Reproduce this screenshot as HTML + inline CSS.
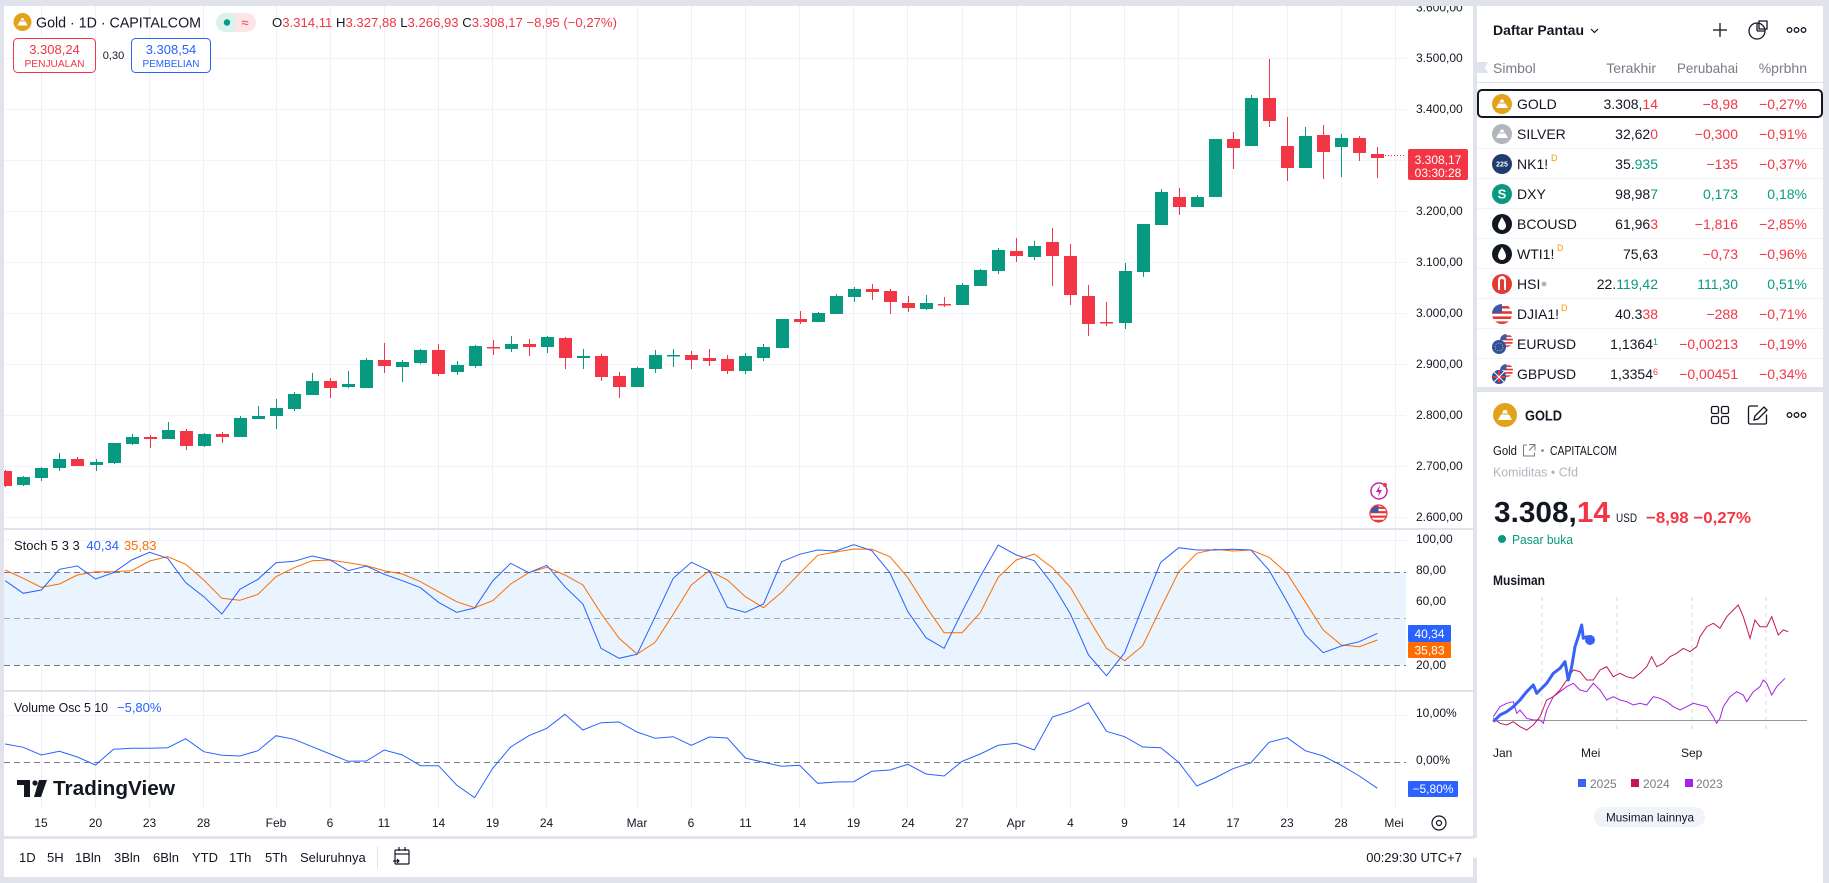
<!DOCTYPE html>
<html><head><meta charset="utf-8"><style>
html,body{margin:0;padding:0;background:#e0e3eb;}
svg{display:block;font-family:"Liberation Sans",sans-serif;}
</style></head><body>
<svg width="1829" height="883" viewBox="0 0 1829 883" xmlns="http://www.w3.org/2000/svg">
<defs>
<clipPath id="chartclip"><rect x="4" y="6" width="1402" height="802"/></clipPath>
<clipPath id="cc10"><circle cx="0" cy="0" r="10"/></clipPath>
<symbol id="us" viewBox="-10 -10 20 20">
<g clip-path="url(#cc10)">
<rect x="-10" y="-10" width="20" height="20" fill="#fff"/>
<rect x="-10" y="-8" width="20" height="2.6" fill="#e53935"/>
<rect x="-10" y="-2.8" width="20" height="2.6" fill="#e53935"/>
<rect x="-10" y="2.4" width="20" height="2.6" fill="#e53935"/>
<rect x="-10" y="7.4" width="20" height="2.6" fill="#e53935"/>
<rect x="-10" y="-10" width="10" height="9" fill="#3c5aa6"/>
</g></symbol>
</defs>

<!-- cards -->
<rect x="4" y="6" width="1469" height="830" fill="#fff"/>
<rect x="4" y="839" width="1469" height="38" fill="#fff"/>
<rect x="1477" y="6" width="346" height="381" fill="#fff"/>
<rect x="1477" y="392" width="346" height="491" fill="#fff"/>

<!-- stoch band -->
<rect x="4" y="572" width="1402" height="93" fill="#e9f4fe"/>

<!-- grid -->
<g stroke="#f0f3fa" stroke-width="1">
<line x1="4" y1="58.5" x2="1406" y2="58.5"/><line x1="4" y1="109.5" x2="1406" y2="109.5"/><line x1="4" y1="160.5" x2="1406" y2="160.5"/><line x1="4" y1="211.5" x2="1406" y2="211.5"/><line x1="4" y1="262.5" x2="1406" y2="262.5"/><line x1="4" y1="313.5" x2="1406" y2="313.5"/><line x1="4" y1="364.5" x2="1406" y2="364.5"/><line x1="4" y1="415.5" x2="1406" y2="415.5"/><line x1="4" y1="466.5" x2="1406" y2="466.5"/><line x1="4" y1="517.5" x2="1406" y2="517.5"/>
<line x1="4" y1="540.5" x2="1406" y2="540.5"/><line x1="4" y1="603.5" x2="1406" y2="603.5"/><line x1="4" y1="634.5" x2="1406" y2="634.5"/>
<line x1="4" y1="715.5" x2="1406" y2="715.5"/>
</g>
<g stroke="#eef0f5" stroke-width="1">
<line x1="41.5" y1="6" x2="41.5" y2="808"/><line x1="95.5" y1="6" x2="95.5" y2="808"/><line x1="149.5" y1="6" x2="149.5" y2="808"/><line x1="203.5" y1="6" x2="203.5" y2="808"/><line x1="276.5" y1="6" x2="276.5" y2="808"/><line x1="330.5" y1="6" x2="330.5" y2="808"/><line x1="384.5" y1="6" x2="384.5" y2="808"/><line x1="438.5" y1="6" x2="438.5" y2="808"/><line x1="492.5" y1="6" x2="492.5" y2="808"/><line x1="546.5" y1="6" x2="546.5" y2="808"/><line x1="637.5" y1="6" x2="637.5" y2="808"/><line x1="691.5" y1="6" x2="691.5" y2="808"/><line x1="745.5" y1="6" x2="745.5" y2="808"/><line x1="799.5" y1="6" x2="799.5" y2="808"/><line x1="853.5" y1="6" x2="853.5" y2="808"/><line x1="907.5" y1="6" x2="907.5" y2="808"/><line x1="962.5" y1="6" x2="962.5" y2="808"/><line x1="1016.5" y1="6" x2="1016.5" y2="808"/><line x1="1070.5" y1="6" x2="1070.5" y2="808"/><line x1="1124.5" y1="6" x2="1124.5" y2="808"/><line x1="1178.5" y1="6" x2="1178.5" y2="808"/><line x1="1232.5" y1="6" x2="1232.5" y2="808"/><line x1="1287.5" y1="6" x2="1287.5" y2="808"/><line x1="1341.5" y1="6" x2="1341.5" y2="808"/><line x1="1395.5" y1="6" x2="1395.5" y2="808"/>
</g>

<!-- pane separators -->
<rect x="4" y="528" width="1469" height="2" fill="#e0e3eb"/>
<rect x="4" y="690" width="1469" height="2" fill="#e0e3eb"/>

<!-- stoch dashed -->
<g stroke-dasharray="6 4" stroke-width="1">
<line x1="4" y1="572.5" x2="1406" y2="572.5" stroke="#787b86"/>
<line x1="4" y1="618.5" x2="1406" y2="618.5" stroke="#a8abb5"/>
<line x1="4" y1="665.5" x2="1406" y2="665.5" stroke="#787b86"/>
<line x1="4" y1="762.5" x2="1406" y2="762.5" stroke="#787b86"/>
</g>

<g clip-path="url(#chartclip)">
<!-- green candles -->
<g fill="#089981">
<rect x="23" y="476" width="1" height="10"/><rect x="17" y="477" width="13" height="8"/>
<rect x="41" y="467" width="1" height="14"/><rect x="35" y="468" width="13" height="10"/>
<rect x="59" y="453" width="1" height="18"/><rect x="53" y="459" width="13" height="9"/>
<rect x="96" y="459" width="1" height="12"/><rect x="90" y="462" width="13" height="3"/>
<rect x="114" y="443" width="1" height="21"/><rect x="108" y="443" width="13" height="20"/>
<rect x="132" y="434" width="1" height="11"/><rect x="126" y="437" width="13" height="7"/>
<rect x="168" y="422" width="1" height="17"/><rect x="162" y="430" width="13" height="9"/>
<rect x="204" y="433" width="1" height="14"/><rect x="198" y="434" width="13" height="12"/>
<rect x="240" y="416" width="1" height="21"/><rect x="234" y="418" width="13" height="19"/>
<rect x="258" y="406" width="1" height="13"/><rect x="252" y="416" width="13" height="3"/>
<rect x="276" y="399" width="1" height="30"/><rect x="270" y="408" width="13" height="8"/>
<rect x="294" y="392" width="1" height="19"/><rect x="288" y="394" width="13" height="15"/>
<rect x="312" y="373" width="1" height="22"/><rect x="306" y="381" width="13" height="14"/>
<rect x="348" y="371" width="1" height="17"/><rect x="342" y="384" width="13" height="3"/>
<rect x="366" y="358" width="1" height="30"/><rect x="360" y="360" width="13" height="28"/>
<rect x="402" y="360" width="1" height="22"/><rect x="396" y="362" width="13" height="5"/>
<rect x="420" y="349" width="1" height="15"/><rect x="414" y="350" width="13" height="13"/>
<rect x="457" y="361" width="1" height="14"/><rect x="451" y="365" width="13" height="7"/>
<rect x="475" y="345" width="1" height="23"/><rect x="469" y="346" width="13" height="20"/>
<rect x="511" y="336" width="1" height="16"/><rect x="505" y="344" width="13" height="5"/>
<rect x="547" y="336" width="1" height="17"/><rect x="541" y="337" width="13" height="10"/>
<rect x="583" y="349" width="1" height="20"/><rect x="577" y="356" width="13" height="2"/>
<rect x="637" y="367" width="1" height="20"/><rect x="631" y="368" width="13" height="19"/>
<rect x="655" y="350" width="1" height="23"/><rect x="649" y="355" width="13" height="14"/>
<rect x="673" y="349" width="1" height="18"/><rect x="667" y="355" width="13" height="1.5"/>
<rect x="745" y="353" width="1" height="21"/><rect x="739" y="356" width="13" height="15"/>
<rect x="763" y="344" width="1" height="17"/><rect x="757" y="347" width="13" height="11"/>
<rect x="782" y="319" width="1" height="29"/><rect x="776" y="319" width="13" height="29"/>
<rect x="818" y="312" width="1" height="10"/><rect x="812" y="313" width="13" height="9"/>
<rect x="836" y="294" width="1" height="20"/><rect x="830" y="296" width="13" height="18"/>
<rect x="854" y="287" width="1" height="15"/><rect x="848" y="289" width="13" height="8"/>
<rect x="926" y="295" width="1" height="15"/><rect x="920" y="303" width="13" height="6"/>
<rect x="962" y="283" width="1" height="22"/><rect x="956" y="285" width="13" height="20"/>
<rect x="980" y="269" width="1" height="17"/><rect x="974" y="270" width="13" height="16"/>
<rect x="998" y="248" width="1" height="26"/><rect x="992" y="250" width="13" height="21"/>
<rect x="1034" y="241" width="1" height="19"/><rect x="1028" y="246" width="13" height="11"/>
<rect x="1125" y="263" width="1" height="66"/><rect x="1119" y="271" width="13" height="52"/>
<rect x="1143" y="224" width="1" height="53"/><rect x="1137" y="224" width="13" height="48"/>
<rect x="1161" y="189" width="1" height="36"/><rect x="1155" y="192" width="13" height="33"/>
<rect x="1197" y="195" width="1" height="12"/><rect x="1191" y="197" width="13" height="10"/>
<rect x="1215" y="139" width="1" height="58"/><rect x="1209" y="139" width="13" height="58"/>
<rect x="1251" y="95" width="1" height="51"/><rect x="1245" y="98" width="13" height="48"/>
<rect x="1305" y="127" width="1" height="41"/><rect x="1299" y="136" width="13" height="32"/>
<rect x="1341" y="134" width="1" height="43"/><rect x="1335" y="138" width="13" height="9"/>
</g>
<!-- red candles -->
<g fill="#f23645">
<rect x="5" y="470" width="1" height="17"/><rect x="-1" y="471" width="13" height="15"/>
<rect x="77" y="457" width="1" height="9"/><rect x="71" y="459" width="13" height="7"/>
<rect x="150" y="435" width="1" height="13"/><rect x="144" y="437" width="13" height="2"/>
<rect x="186" y="429" width="1" height="21"/><rect x="180" y="431" width="13" height="15"/>
<rect x="222" y="432" width="1" height="11"/><rect x="216" y="434" width="13" height="3"/>
<rect x="330" y="378" width="1" height="20"/><rect x="324" y="381" width="13" height="7"/>
<rect x="384" y="343" width="1" height="30"/><rect x="378" y="360" width="13" height="6"/>
<rect x="438" y="344" width="1" height="32"/><rect x="432" y="350" width="13" height="24"/>
<rect x="493" y="340" width="1" height="15"/><rect x="487" y="347" width="13" height="1.5"/>
<rect x="529" y="339" width="1" height="17"/><rect x="523" y="344" width="13" height="3"/>
<rect x="565" y="337" width="1" height="32"/><rect x="559" y="338" width="13" height="20"/>
<rect x="601" y="354" width="1" height="27"/><rect x="595" y="356" width="13" height="21"/>
<rect x="619" y="372" width="1" height="26"/><rect x="613" y="376" width="13" height="11"/>
<rect x="691" y="351" width="1" height="18"/><rect x="685" y="355" width="13" height="5"/>
<rect x="709" y="349" width="1" height="17"/><rect x="703" y="358" width="13" height="3"/>
<rect x="727" y="355" width="1" height="19"/><rect x="721" y="359" width="13" height="12"/>
<rect x="800" y="311" width="1" height="13"/><rect x="794" y="319" width="13" height="3"/>
<rect x="872" y="284" width="1" height="16"/><rect x="866" y="289" width="13" height="3"/>
<rect x="890" y="289" width="1" height="25"/><rect x="884" y="291" width="13" height="11"/>
<rect x="908" y="296" width="1" height="16"/><rect x="902" y="303" width="13" height="5"/>
<rect x="944" y="297" width="1" height="10"/><rect x="938" y="304" width="13" height="1.5"/>
<rect x="1016" y="238" width="1" height="24"/><rect x="1010" y="251" width="13" height="5"/>
<rect x="1052" y="228" width="1" height="58"/><rect x="1046" y="242" width="13" height="14"/>
<rect x="1070" y="244" width="1" height="61"/><rect x="1064" y="256" width="13" height="39"/>
<rect x="1088" y="285" width="1" height="51"/><rect x="1082" y="296" width="13" height="28"/>
<rect x="1106" y="302" width="1" height="24"/><rect x="1100" y="322" width="13" height="1.5"/>
<rect x="1179" y="188" width="1" height="27"/><rect x="1173" y="197" width="13" height="10"/>
<rect x="1233" y="132" width="1" height="37"/><rect x="1227" y="139" width="13" height="9"/>
<rect x="1269" y="59" width="1" height="68"/><rect x="1263" y="98" width="13" height="23"/>
<rect x="1287" y="117" width="1" height="64"/><rect x="1281" y="146" width="13" height="22"/>
<rect x="1323" y="125" width="1" height="54"/><rect x="1317" y="135" width="13" height="17"/>
<rect x="1359" y="136" width="1" height="25"/><rect x="1353" y="138" width="13" height="15"/>
<rect x="1377" y="147" width="1" height="31"/><rect x="1371" y="154" width="13" height="4"/>
</g>
<line x1="1385" y1="155.5" x2="1406" y2="155.5" stroke="#f23645" stroke-dasharray="1 2"/>

<!-- stoch lines -->
<polyline fill="none" stroke="#ff6d00" stroke-width="1" points="5.2,570 23.2,578.3 41.3,587.3 59.4,584 77.4,575 95.5,571.7 113.5,571.7 131.6,570.7 149.6,561 167.7,556.7 185.7,564.3 203.8,580 221.9,598.3 239.9,600.3 258,594.3 276,576.7 294.1,567.7 312.1,560.7 330.2,560 348.2,562.7 366.3,565.7 384.3,570.7 402.4,574 420.5,581.7 438.5,591.7 456.6,601.7 474.6,607.7 492.7,600.7 510.7,584 528.8,572.7 546.8,567.3 564.9,575 582.9,585 601,613.3 619.1,638.3 637.1,654 655.2,642.3 673.2,614.3 691.3,585 709.3,570.7 727.4,580 745.4,596.7 763.5,607.7 781.6,592.3 799.6,573.3 817.7,555.3 835.7,552 853.8,549 871.8,549.3 889.9,556.7 907.9,577.7 926,606.7 944.1,632.7 962.1,632.7 980.2,612.7 998.2,577.3 1016.3,560 1034.3,554 1052.4,567.7 1070.4,587.3 1088.5,618.3 1106.5,648.3 1124.6,660.7 1142.7,645.7 1160.7,608.3 1178.8,571.7 1196.8,553.3 1214.9,549.3 1232.9,551 1251,550 1269,557.3 1287.1,573.3 1305.2,601.7 1323.2,630 1341.3,645 1359.3,646.7 1377.4,640"/>
<polyline fill="none" stroke="#2962ff" stroke-width="1" points="5.2,580.7 23.2,593.3 41.3,590 59.4,569.3 77.4,566 95.5,579 113.5,572.7 131.6,560 149.6,552.3 167.7,558.3 185.7,582.7 203.8,596.7 221.9,614 239.9,589.3 258,579.3 276,562.7 294.1,561.3 312.1,556 330.2,560 348.2,570.7 366.3,566 384.3,574.3 402.4,580.7 420.5,587.7 438.5,602.3 456.6,612.3 474.6,608 492.7,581 510.7,563.3 528.8,572.7 546.8,565.3 564.9,586.7 582.9,604 601,648.3 619.1,658.3 637.1,654.3 655.2,616.7 673.2,578.3 691.3,562.3 709.3,570.7 727.4,607.3 745.4,612.3 763.5,604 781.6,561.7 799.6,554.3 817.7,550 835.7,551 853.8,544.7 871.8,550.7 889.9,572.7 907.9,611.7 926,637.7 944.1,648.3 962.1,611.7 980.2,576.7 998.2,545 1016.3,555 1034.3,560.7 1052.4,584 1070.4,614 1088.5,655 1106.5,675.7 1124.6,652.7 1142.7,606.7 1160.7,562.3 1178.8,547.7 1196.8,550 1214.9,550 1232.9,549.3 1251,550 1269,570 1287.1,601.7 1305.2,635 1323.2,652.7 1341.3,646 1359.3,641.7 1377.4,633.3"/>
<!-- volume osc -->
<polyline fill="none" stroke="#2962ff" stroke-width="1" points="5.2,744 23.2,747.3 41.3,755 59.4,751.3 77.4,757 95.5,765 113.5,749.3 131.6,748.3 149.6,748.3 167.7,747.7 185.7,738.7 203.8,751.7 221.9,755.3 239.9,756 258,750.7 276,735.7 294.1,739.3 312.1,746.7 330.2,754 348.2,761.3 366.3,761 384.3,750 402.4,755 420.5,765.7 438.5,765.7 456.6,785 474.6,797.7 492.7,768.3 510.7,747 528.8,735.7 546.8,728.3 564.9,714.3 582.9,730 601,722.7 619.1,722 637.1,732 655.2,738.3 673.2,736.7 691.3,745.3 709.3,737 727.4,738 745.4,758 763.5,762.3 781.6,766.3 799.6,765.3 817.7,783.3 835.7,782 853.8,781.7 871.8,771.3 889.9,770 907.9,764.3 926,774 944.1,776 962.1,761.3 980.2,754 998.2,745.3 1016.3,743.3 1034.3,750 1052.4,717 1070.4,711.3 1088.5,702.7 1106.5,731.3 1124.6,736.7 1142.7,747 1160.7,747.7 1178.8,762.3 1196.8,786 1214.9,778 1232.9,768.7 1251,762.7 1269,742.3 1287.1,737.7 1305.2,750.7 1323.2,756 1341.3,765.3 1359.3,776 1377.4,788.3"/>
</g>

<!-- chart right icons -->
<circle cx="1379" cy="491" r="8" fill="#fff" stroke="#b92fa0" stroke-width="1.5"/>
<path d="M1380 485 L1376 492 L1379 492 L1378 497 L1382 490 L1379 490 Z" fill="#b92fa0"/>
<circle cx="1385" cy="485" r="2" fill="#f23645"/>
<use href="#us" x="1370" y="505" width="17" height="17"/>
<circle cx="1378.5" cy="513.5" r="8.5" fill="none" stroke="#f23645" stroke-width="1.2"/>

<!-- header -->
<circle cx="22.5" cy="22" r="9" fill="#e2a31a"/>
<path d="M17.5 25.5 L19.5 21.5 L25.5 21.5 L27.5 25.5 Z M20.5 20.5 L21.5 18 L23.5 18 L24.5 20.5 Z" fill="#fff"/>
<text x="36" y="27.5" font-size="15" fill="#131722" textLength="165" lengthAdjust="spacingAndGlyphs">Gold · 1D · CAPITALCOM</text>
<rect x="216" y="13" width="40" height="19" rx="9.5" fill="#fde5e7"/>
<path d="M225.5 13 h10 v19 h-10 a9.5 9.5 0 0 1 0 -19z" fill="#daf1ec"/>
<circle cx="227" cy="22.5" r="3.2" fill="#089981"/>
<text x="245" y="27" font-size="13" fill="#f23645" text-anchor="middle">≈</text>
<text x="272" y="27" font-size="13" textLength="345" lengthAdjust="spacingAndGlyphs" fill="#131722">O<tspan fill="#f23645">3.314,11</tspan> H<tspan fill="#f23645">3.327,88</tspan> L<tspan fill="#f23645">3.266,93</tspan> C<tspan fill="#f23645">3.308,17</tspan><tspan fill="#f23645">  −8,95 (−0,27%)</tspan></text>
<rect x="13.5" y="38.5" width="82" height="34" rx="4" fill="#fff" stroke="#f23645"/>
<text x="54.5" y="54" font-size="13" fill="#f23645" text-anchor="middle">3.308,24</text>
<text x="54.5" y="67" font-size="10.5" fill="#f23645" text-anchor="middle" textLength="60" lengthAdjust="spacingAndGlyphs">PENJUALAN</text>
<text x="113.5" y="59" font-size="11" fill="#131722" text-anchor="middle">0,30</text>
<rect x="131.5" y="38.5" width="79" height="34" rx="4" fill="#fff" stroke="#2962ff"/>
<text x="171" y="54" font-size="13" fill="#2962ff" text-anchor="middle">3.308,54</text>
<text x="171" y="67" font-size="10.5" fill="#2962ff" text-anchor="middle" textLength="57" lengthAdjust="spacingAndGlyphs">PEMBELIAN</text>

<!-- price axis -->
<g font-size="12" fill="#131722">
<text x="1416" y="11.5">3.600,00</text>
<text x="1416" y="62">3.500,00</text>
<text x="1416" y="113">3.400,00</text>
<text x="1416" y="215">3.200,00</text>
<text x="1416" y="266">3.100,00</text>
<text x="1416" y="317">3.000,00</text>
<text x="1416" y="368">2.900,00</text>
<text x="1416" y="419">2.800,00</text>
<text x="1416" y="470">2.700,00</text>
<text x="1416" y="521">2.600,00</text>
<text x="1416" y="543">100,00</text>
<text x="1416" y="574">80,00</text>
<text x="1416" y="605">60,00</text>
<text x="1416" y="669">20,00</text>
<text x="1416" y="717">10,00%</text>
<text x="1416" y="764">0,00%</text>
</g>
<rect x="1408" y="149" width="60" height="31" rx="2" fill="#f23645"/>
<text x="1438" y="164" font-size="12" fill="#fff" text-anchor="middle">3.308,17</text>
<text x="1438" y="177" font-size="12" fill="#fff" text-anchor="middle">03:30:28</text>
<rect x="1408" y="625" width="43" height="17" rx="1" fill="#2962ff"/>
<text x="1429.5" y="638" font-size="12" fill="#fff" text-anchor="middle">40,34</text>
<rect x="1408" y="642" width="43" height="16" rx="1" fill="#ff6d00"/>
<text x="1429.5" y="654.5" font-size="12" fill="#fff" text-anchor="middle">35,83</text>
<rect x="1408" y="781" width="50" height="16" rx="1" fill="#2962ff"/>
<text x="1433" y="793" font-size="12" fill="#fff" text-anchor="middle">−5,80%</text>

<!-- pane legends -->
<text x="14" y="550" font-size="13" fill="#131722">Stoch 5 3 3 <tspan fill="#2962ff" dx="3">40,34</tspan><tspan fill="#ff6d00" dx="5">35,83</tspan></text>
<text x="14" y="712" font-size="13" fill="#131722" textLength="94" lengthAdjust="spacingAndGlyphs">Volume Osc 5 10</text>
<text x="117" y="712" font-size="13" fill="#2962ff">−5,80%</text>

<!-- TradingView logo -->
<g fill="#131722">
<rect x="17" y="780" width="13" height="5"/>
<rect x="24" y="780" width="6" height="17"/>
<circle cx="35" cy="783" r="2.6"/>
<path d="M39 780 H47 L41 797 H34 Z"/>
</g>
<text x="53" y="795" font-size="20" font-weight="bold" fill="#131722" textLength="122" lengthAdjust="spacingAndGlyphs">TradingView</text>

<!-- time axis -->
<g font-size="12" fill="#131722" text-anchor="middle">
<text x="41" y="827">15</text><text x="95.5" y="827">20</text><text x="149.5" y="827">23</text><text x="203.5" y="827">28</text><text x="276" y="827">Feb</text><text x="330" y="827">6</text><text x="384" y="827">11</text><text x="438.5" y="827">14</text><text x="492.5" y="827">19</text><text x="546.5" y="827">24</text><text x="637" y="827">Mar</text><text x="691" y="827">6</text><text x="745.5" y="827">11</text><text x="799.5" y="827">14</text><text x="853.5" y="827">19</text><text x="908" y="827">24</text><text x="962" y="827">27</text><text x="1016" y="827">Apr</text><text x="1070.5" y="827">4</text><text x="1124.5" y="827">9</text><text x="1179" y="827">14</text><text x="1233" y="827">17</text><text x="1287" y="827">23</text><text x="1341" y="827">28</text><text x="1394" y="827">Mei</text>
</g>
<circle cx="1439" cy="823" r="7" fill="none" stroke="#131722" stroke-width="1.2"/>
<circle cx="1439" cy="823" r="2.5" fill="none" stroke="#131722" stroke-width="1.2"/>

<!-- toolbar -->
<g font-size="13" fill="#131722">
<text x="19" y="862">1D</text><text x="47" y="862">5H</text><text x="75" y="862">1Bln</text><text x="114" y="862">3Bln</text><text x="153" y="862">6Bln</text><text x="192" y="862">YTD</text><text x="229" y="862">1Th</text><text x="265" y="862">5Th</text><text x="300" y="862">Seluruhnya</text>
<text x="1462" y="862" text-anchor="end">00:29:30 UTC+7</text>
</g>
<line x1="377.5" y1="846" x2="377.5" y2="869" stroke="#e0e3eb"/>
<g fill="none" stroke="#131722" stroke-width="1.2">
<rect x="395" y="850" width="14" height="14" rx="1"/>
<line x1="395" y1="854" x2="409" y2="854"/>
<line x1="399" y1="847" x2="399" y2="851"/><line x1="405" y1="847" x2="405" y2="851"/>
<path d="M393 861 h6 m-2 -2 l2 2 l-2 2"/>
</g>
<rect x="1473" y="838" width="5" height="20" rx="2" fill="#fff"/>

<!-- watchlist -->
<text x="1493" y="35" font-size="14" font-weight="bold" fill="#131722">Daftar Pantau</text>
<path d="M1591 29 l3.5 3.5 l3.5 -3.5" fill="none" stroke="#131722" stroke-width="1.2"/>
<g stroke="#131722" stroke-width="1.3" fill="none">
<line x1="1713" y1="30" x2="1727" y2="30"/><line x1="1720" y1="23" x2="1720" y2="37"/>
<circle cx="1757" cy="31" r="8"/><path d="M1757 31 V23 M1757 31 H1765"/><path d="M1759 21 h8 v8 h-8z"/>
<circle cx="1789.5" cy="30" r="2.3"/><circle cx="1796.5" cy="30" r="2.3"/><circle cx="1803.5" cy="30" r="2.3"/>
</g>
<path d="M1477 62 h11 l-3 5.5 l3 5.5 h-11z" fill="#e0e3eb"/>
<g font-size="14" fill="#787b86">
<text x="1493" y="73">Simbol</text>
<text x="1656" y="73" text-anchor="end">Terakhir</text>
<text x="1738" y="73" text-anchor="end" textLength="61" lengthAdjust="spacingAndGlyphs">Perubahai</text>
<text x="1807" y="73" text-anchor="end">%prbhn</text>
</g>
<line x1="1477" y1="82.5" x2="1823" y2="82.5" stroke="#e0e3eb"/>
<g stroke="#f0f3fa">
<line x1="1477" y1="148.5" x2="1823" y2="148.5"/><line x1="1477" y1="178.5" x2="1823" y2="178.5"/><line x1="1477" y1="208.5" x2="1823" y2="208.5"/><line x1="1477" y1="238.5" x2="1823" y2="238.5"/><line x1="1477" y1="268.5" x2="1823" y2="268.5"/><line x1="1477" y1="298.5" x2="1823" y2="298.5"/><line x1="1477" y1="328.5" x2="1823" y2="328.5"/><line x1="1477" y1="358.5" x2="1823" y2="358.5"/>
</g>
<rect x="1478" y="90" width="344" height="27" rx="4" fill="none" stroke="#131722" stroke-width="2"/>

<!-- row icons -->
<circle cx="1502" cy="104" r="10" fill="#e2a31a"/><path d="M1496 108 L1498.5 103.5 L1505.5 103.5 L1508 108 Z M1499.5 102.5 L1500.8 99.5 L1503.2 99.5 L1504.5 102.5 Z" fill="#fff"/>
<circle cx="1502" cy="134" r="10" fill="#b2b5be"/><path d="M1496 138 L1498.5 133.5 L1505.5 133.5 L1508 138 Z M1499.5 132.5 L1500.8 129.5 L1503.2 129.5 L1504.5 132.5 Z" fill="#fff"/>
<circle cx="1502" cy="164" r="10" fill="#1f3c6e"/><text x="1502" y="166.5" font-size="7" fill="#fff" text-anchor="middle" font-weight="bold">225</text>
<circle cx="1502" cy="194" r="10" fill="#089981"/><text x="1502" y="198.5" font-size="13" fill="#fff" text-anchor="middle" font-weight="bold">S</text>
<circle cx="1502" cy="224" r="10" fill="#131722"/><path d="M1502 217 C1499 222 1498 224 1498 226 a4 4 0 0 0 8 0 C1506 224 1505 222 1502 217z" fill="#fff"/>
<circle cx="1502" cy="254" r="10" fill="#131722"/><path d="M1502 247 C1499 252 1498 254 1498 256 a4 4 0 0 0 8 0 C1506 254 1505 252 1502 247z" fill="#fff"/>
<circle cx="1502" cy="284" r="10" fill="#e53935"/><path d="M1498 290 V280 a4 4 0 0 1 8 0 V290 h-2 V281 a2 2 0 0 0 -4 0 V290z" fill="#fff"/>
<use href="#us" x="1492" y="304" width="20" height="20"/>
<use href="#us" x="1500" y="334" width="13" height="13"/><circle cx="1499" cy="347" r="7" fill="#2b4fa3"/><circle cx="1499" cy="347" r="4" fill="none" stroke="#f5c518" stroke-width="1" stroke-dasharray="1 1.5"/>
<use href="#us" x="1500" y="364" width="13" height="13"/><circle cx="1499" cy="377" r="7" fill="#2b4fa3"/><path d="M1493 377 h12 M1499 371 v12" stroke="#e53935" stroke-width="2"/><path d="M1494 372 l10 10 M1504 372 l-10 10" stroke="#fff" stroke-width="1"/>

<g font-size="14" fill="#131722">
<text x="1517" y="109">GOLD</text>
<text x="1517" y="139">SILVER</text>
<text x="1517" y="169">NK1!</text><text x="1551" y="161" font-size="9" fill="#ff9800">D</text>
<text x="1517" y="199">DXY</text>
<text x="1517" y="229">BCOUSD</text>
<text x="1517" y="259">WTI1!</text><text x="1557" y="251" font-size="9" fill="#ff9800">D</text>
<text x="1517" y="289">HSI</text><circle cx="1544" cy="284" r="2.5" fill="#b2b5be"/>
<text x="1517" y="319">DJIA1!</text><text x="1561" y="311" font-size="9" fill="#ff9800">D</text>
<text x="1517" y="349">EURUSD</text>
<text x="1517" y="379">GBPUSD</text>
</g>
<g font-size="14" fill="#131722" text-anchor="end">
<text x="1658" y="109">3.308,<tspan fill="#f23645">14</tspan></text>
<text x="1658" y="139">32,62<tspan fill="#f23645">0</tspan></text>
<text x="1658" y="169">35.<tspan fill="#089981">935</tspan></text>
<text x="1658" y="199">98,98<tspan fill="#089981">7</tspan></text>
<text x="1658" y="229">61,96<tspan fill="#f23645">3</tspan></text>
<text x="1658" y="259">75,63</text>
<text x="1658" y="289">22.<tspan fill="#089981">119,42</tspan></text>
<text x="1658" y="319">40.3<tspan fill="#f23645">38</tspan></text>
<text x="1658" y="349">1,1364<tspan fill="#089981" font-size="9" dy="-4">1</tspan></text>
<text x="1658" y="379">1,3354<tspan fill="#f23645" font-size="9" dy="-4">6</tspan></text>
</g>
<g font-size="14" fill="#f23645" text-anchor="end">
<text x="1738" y="109">−8,98</text><text x="1807" y="109">−0,27%</text>
<text x="1738" y="139">−0,300</text><text x="1807" y="139">−0,91%</text>
<text x="1738" y="169">−135</text><text x="1807" y="169">−0,37%</text>
<text x="1738" y="199" fill="#089981">0,173</text><text x="1807" y="199" fill="#089981">0,18%</text>
<text x="1738" y="229">−1,816</text><text x="1807" y="229">−2,85%</text>
<text x="1738" y="259">−0,73</text><text x="1807" y="259">−0,96%</text>
<text x="1738" y="289" fill="#089981">111,30</text><text x="1807" y="289" fill="#089981">0,51%</text>
<text x="1738" y="319">−288</text><text x="1807" y="319">−0,71%</text>
<text x="1738" y="349">−0,00213</text><text x="1807" y="349">−0,19%</text>
<text x="1738" y="379">−0,00451</text><text x="1807" y="379">−0,34%</text>
</g>

<!-- detail panel -->
<circle cx="1505" cy="415" r="12" fill="#e2a31a"/>
<path d="M1498 420 L1501 414.5 L1509 414.5 L1512 420 Z M1502 413.5 L1503.5 410 L1506.5 410 L1508 413.5 Z" fill="#fff"/>
<text x="1525" y="420.5" font-size="15" font-weight="bold" fill="#131722" textLength="37" lengthAdjust="spacingAndGlyphs">GOLD</text>
<g fill="none" stroke="#131722" stroke-width="1.3">
<rect x="1711.5" y="406.5" width="7" height="7" rx="1.5"/><rect x="1721.5" y="406.5" width="7" height="7" rx="1.5"/><rect x="1711.5" y="416.5" width="7" height="7" rx="1.5"/><rect x="1721.5" y="416.5" width="7" height="7" rx="1.5"/>
<path d="M1758 406 h-8 a1.5 1.5 0 0 0 -1.5 1.5 v15 a1.5 1.5 0 0 0 1.5 1.5 h15 a1.5 1.5 0 0 0 1.5 -1.5 v-8"/>
<path d="M1754 420 l1 -4 l9 -9 l3 3 l-9 9 z"/>
<circle cx="1789.5" cy="415" r="2.3"/><circle cx="1796.5" cy="415" r="2.3"/><circle cx="1803.5" cy="415" r="2.3"/>
</g>
<text x="1493" y="455" font-size="13" fill="#131722" textLength="24" lengthAdjust="spacingAndGlyphs">Gold</text>
<path d="M1527 445 h-3.5 v11 h11 v-3.5 M1529 444.5 h6 v6 M1535 444.5 l-6 6" fill="none" stroke="#787b86" stroke-width="1"/>
<circle cx="1542.5" cy="450.5" r="1.3" fill="#787b86"/>
<text x="1550" y="455" font-size="13" fill="#131722" textLength="67" lengthAdjust="spacingAndGlyphs">CAPITALCOM</text>
<text x="1493" y="476.5" font-size="13" fill="#b2b5be" textLength="85" lengthAdjust="spacingAndGlyphs">Komiditas  •  Cfd</text>
<text x="1494" y="522" font-size="29" font-weight="bold" fill="#131722" textLength="116" lengthAdjust="spacingAndGlyphs">3.308,<tspan fill="#f23645">14</tspan></text>
<text x="1616" y="522" font-size="12" fill="#131722" textLength="21" lengthAdjust="spacingAndGlyphs">USD</text>
<text x="1646" y="523" font-size="16" font-weight="bold" fill="#f23645" textLength="105" lengthAdjust="spacingAndGlyphs">−8,98  −0,27%</text>
<circle cx="1502" cy="539" r="4" fill="#089981"/>
<text x="1512" y="544" font-size="13" fill="#089981" textLength="61" lengthAdjust="spacingAndGlyphs">Pasar buka</text>
<text x="1493" y="585" font-size="14" font-weight="bold" fill="#131722" textLength="52" lengthAdjust="spacingAndGlyphs">Musiman</text>

<g stroke="#d1d4dc" stroke-dasharray="4 4">
<line x1="1542" y1="597" x2="1542" y2="733"/><line x1="1617" y1="597" x2="1617" y2="733"/><line x1="1692" y1="597" x2="1692" y2="733"/><line x1="1766" y1="597" x2="1766" y2="733"/>
</g>
<line x1="1493" y1="720.5" x2="1807" y2="720.5" stroke="#9598a1"/>
<polyline fill="none" stroke="#a324e8" stroke-width="1" points="1493.3,716.7 1500,706.7 1506.7,703.3 1513.3,701.7 1516.7,713.3 1520,710 1526.7,718.3 1533.3,720 1540,720 1543.3,723.3 1546.7,710 1553.3,696.7 1560,691.7 1566.7,686.7 1573.3,683.3 1580,690 1586.7,691.7 1593.3,683.3 1600,690 1606.7,700 1613.3,696.7 1620,700 1626.7,701.7 1633.3,705 1640,703.3 1646.7,705 1653.3,696.7 1660,698.3 1666.7,701.7 1673.3,706.7 1680,710 1686.7,706.7 1693.3,703.3 1700,705 1706.7,706.7 1713.3,716.7 1716.7,723.3 1720,718.3 1723.3,706.7 1730,696.7 1736.7,691.7 1743.3,695 1746.7,701.7 1753.3,691.7 1760,686.7 1763.3,680 1766.7,683.3 1771.7,695 1776.7,686.7 1780,683.3 1785,678.3"/>
<polyline fill="none" stroke="#c2185b" stroke-width="1" points="1493.3,718.3 1500,723.3 1506.7,725 1513.3,721.7 1520,726.7 1526.7,730 1533.3,725 1540,716.7 1546.7,700 1553.3,696.7 1560,690 1566.7,680 1573.3,670 1580,671.7 1586.7,680 1593.3,680 1600,670 1606.7,666.7 1613.3,676.7 1620,673.3 1626.7,676.7 1633.3,678.3 1640,673.3 1646.7,666.7 1651.7,656.7 1656.7,666.7 1663.3,663.3 1670,656.7 1676.7,653.3 1683.3,648.3 1690,651.7 1696.7,646.7 1700,636.7 1706.7,626.7 1713.3,623.3 1720,628.3 1726.7,616.7 1733.3,610 1738.3,605 1743.3,616.7 1750,638.3 1755,620 1760,626.7 1766.7,626.7 1771.7,616.7 1778.3,635 1783.3,630 1788.3,631.7"/>
<polyline fill="none" stroke="#3861f6" stroke-width="3" stroke-linejoin="round" points="1493.3,721.7 1500,715 1506.7,711.7 1513.3,706.7 1520,700 1526.7,691.7 1533.3,685 1536.7,693.3 1540,690 1546.7,683.3 1553.3,673.3 1560,668.3 1565,661.7 1568.3,680 1571.7,666.7 1575,646.7 1578.3,636.7 1581.7,625 1583.3,638.3 1586.7,636.7 1590,640"/>
<circle cx="1590" cy="640" r="5" fill="#3861f6"/>
<g font-size="12" fill="#131722">
<text x="1493" y="757">Jan</text><text x="1581" y="757">Mei</text><text x="1681" y="757">Sep</text>
</g>
<rect x="1578" y="779" width="8" height="8" fill="#3861f6"/><text x="1590" y="788" font-size="12" fill="#787b86">2025</text>
<rect x="1631" y="779" width="8" height="8" fill="#c2185b"/><text x="1643" y="788" font-size="12" fill="#787b86">2024</text>
<rect x="1685" y="779" width="8" height="8" fill="#a324e8"/><text x="1696" y="788" font-size="12" fill="#787b86">2023</text>
<rect x="1594" y="807" width="111" height="20" rx="10" fill="#f0f3fa"/>
<text x="1650" y="821.5" font-size="12" fill="#131722" text-anchor="middle" textLength="88" lengthAdjust="spacingAndGlyphs">Musiman lainnya</text>

<!-- outer grey frame on top -->
<rect x="0" y="0" width="1829" height="6" fill="#e0e3eb"/>
<rect x="0" y="0" width="4" height="883" fill="#e0e3eb"/>
<rect x="1823" y="0" width="6" height="883" fill="#e0e3eb"/>
</svg>
</body></html>
